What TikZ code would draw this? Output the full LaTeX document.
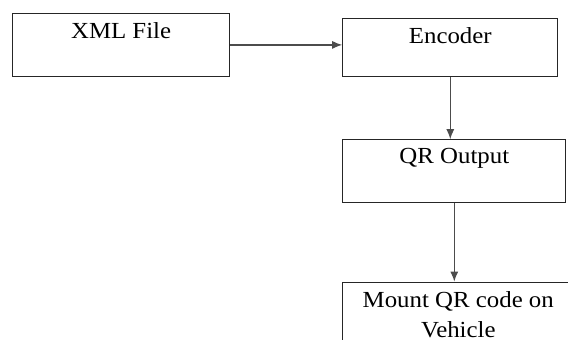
\documentclass[tikz,border=0pt]{standalone}
\usepackage{fontspec}
\setmainfont[FakeStretch=1.08]{Liberation Serif}
\usetikzlibrary{positioning, arrows.meta}
\tikzstyle{block} = [rectangle, draw=black!85, line width=0.6pt, inner sep=0pt, text centered, font=\fontsize{11.5}{14.8}\selectfont, text height=12.3pt]
\tikzstyle{arrow} = [draw=black!70, line width=0.6pt, -{Latex[length=5pt,width=4pt]}]

\begin{document}
\begin{tikzpicture}[node distance=1cm]

\useasboundingbox (-6pt,6.5pt) rectangle (278pt,-163pt);
\clip (-6pt,6.5pt) rectangle (278pt,-163pt);

\node (xml) [block, anchor=north west, minimum width=108.5pt, text depth=19pt] at (0,0) {XML File};
\node (enc) [block, right=56pt of xml.north east, anchor=north west, yshift=-2.5pt, minimum width=107.5pt, text depth=16.7pt] {Encoder};
\node (qr) [block, below=31pt of enc.south west, anchor=north west, minimum width=111.5pt, text height=12pt, text depth=19.3pt] {QR Output};
\node (mount) [block, below=39.3pt of qr.south west, anchor=north west, minimum width=115.5pt, text height=27.6pt, text depth=30pt, align=center] {Mount QR code on\\Vehicle};

\draw [arrow] (xml.east) -- (xml.east -| enc.west);
\draw [arrow] (enc.south) -- (enc.south |- qr.north);
\draw [arrow] (qr.south) -- (qr.south |- mount.north);

\end{tikzpicture}
\end{document}
